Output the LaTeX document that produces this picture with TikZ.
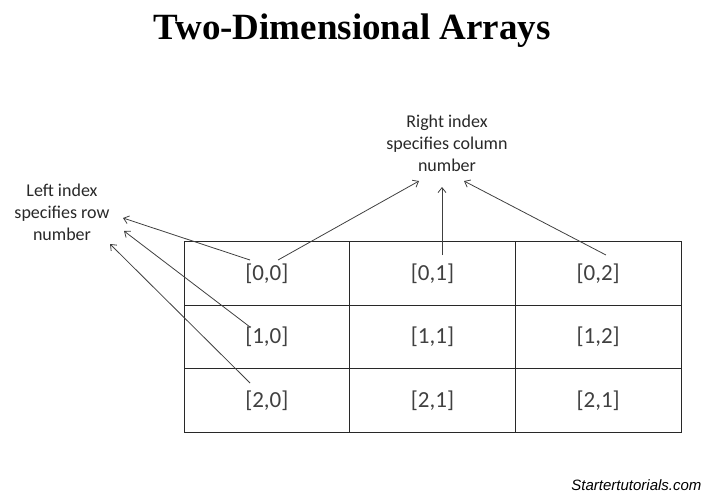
\documentclass[tikz,border=0pt]{standalone}
\usepackage{fontspec}
\setmainfont{Carlito}
\newfontfamily\titlefont{Liberation Serif}
\newfontfamily\markfont{Liberation Sans}
\usetikzlibrary{arrows.meta, positioning}
\usepackage{xcolor}
\definecolor{lgray}{RGB}{64,64,64}
\definecolor{tgray}{RGB}{40,40,40}

\begin{document}
\begin{tikzpicture}[x=1pt,y=-1pt,
  cell/.style={draw=tgray,line width=0.9pt,minimum width=165.667pt,minimum height=63.5pt,
               inner sep=0pt,font=\fontsize{23}{27}\selectfont,text=lgray},
  lbl/.style={align=center,font=\fontsize{18}{22}\selectfont,text=tgray},
  arr/.style={-{Straight Barb[length=5pt,width=8pt]},lgray,line width=0.8pt}
]
\useasboundingbox (0,0) rectangle (706,493);
\node[font=\titlefont\bfseries\fontsize{37}{40}\selectfont] (title) at (352,31) {Two-Dimensional Arrays};
% the array
\node[cell] (c00) at (266.83,273.3) {[0,0]};
\node[cell] (c01) at (432.5,273.3)  {[0,1]};
\node[cell] (c02) at (598.17,273.3) {[0,2]};
\node[cell] (c10) at (266.83,336.8) {[1,0]};
\node[cell] (c11) at (432.5,336.8)  {[1,1]};
\node[cell] (c12) at (598.17,336.8) {[1,2]};
\node[cell] (c20) at (266.83,400.3) {[2,0]};
\node[cell] (c21) at (432.5,400.3)  {[2,1]};
\node[cell] (c22) at (598.17,400.3) {[2,1]};
% index labels
\node[lbl] (rowlbl) at (62,212)  {Left index\\specifies row\\number};
\node[lbl] (collbl) at (447,143) {Right index\\specifies column\\number};
% arrows
\draw[arr] ([shift={(-16.8,-13.3)}]c00.center) -- ([shift={(61,6)}]rowlbl.center);
\draw[arr] ([shift={(-16.8,-9.8)}]c10.center) -- ([shift={(62,19)}]rowlbl.center);
\draw[arr] ([shift={(-16.8,-17.3)}]c20.center) -- ([shift={(48,32)}]rowlbl.center);
\draw[arr] ([shift={(11.2,-13.3)}]c00.center) -- ([shift={(-28,38)}]collbl.center);
\draw[arr] ([shift={(9.5,-18.3)}]c01.center) -- ([shift={(-5,44)}]collbl.center);
\draw[arr] ([shift={(7.8,-18.3)}]c02.center) -- ([shift={(17,38)}]collbl.center);
\node[anchor=east,font=\markfont\itshape\fontsize{15}{17}\selectfont] (mark) at (705,485) {Startertutorials.com};
\end{tikzpicture}
\end{document}
